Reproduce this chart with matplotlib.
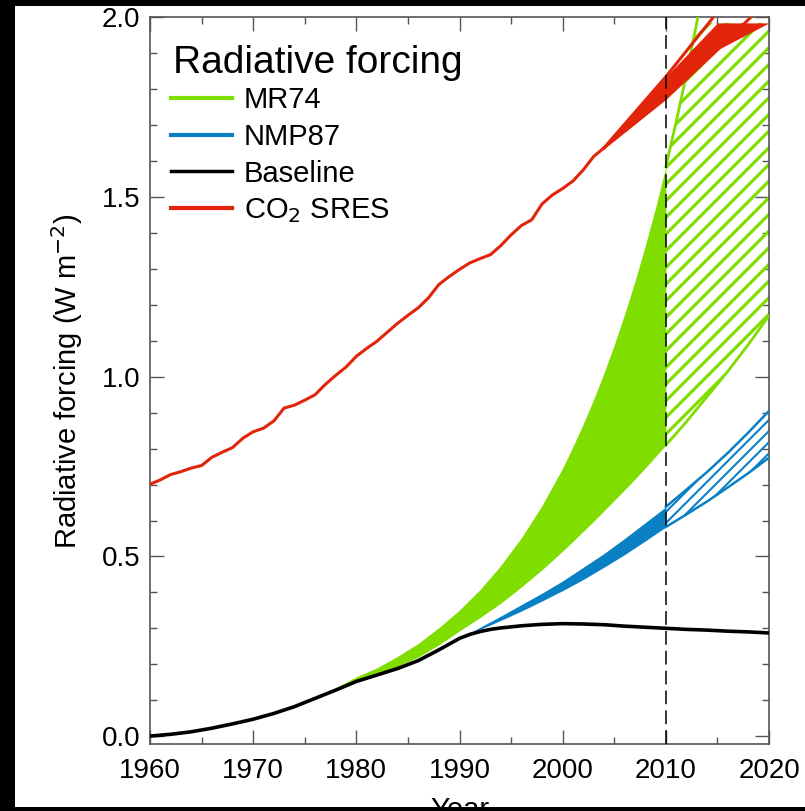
import matplotlib
matplotlib.use("Agg")
import matplotlib.pyplot as plt
from matplotlib.patches import Rectangle
from matplotlib.lines import Line2D
import numpy as np

plt.rcParams['font.family'] = ['Liberation Sans', 'DejaVu Sans']

# colours of the four series
GREEN = '#80dd00'
BLUE = '#0a80c4'
RED = '#e2240a'

# ---- data ----
# CO2 forcing, observed part (W m-2)
co2_years = list(range(1960, 2005))
co2_vals = [0.701, 0.713, 0.728, 0.736, 0.746, 0.753, 0.776, 0.790, 0.803, 0.829,
            0.847, 0.857, 0.877, 0.913, 0.921, 0.935, 0.950, 0.979, 1.004, 1.027,
            1.057, 1.079, 1.099, 1.124, 1.149, 1.171, 1.192, 1.220, 1.257, 1.279,
            1.299, 1.317, 1.329, 1.340, 1.365, 1.395, 1.421, 1.437, 1.481, 1.506,
            1.524, 1.545, 1.576, 1.613, 1.637]
# SRES range after 2004
sres_years = [2004, 2010, 2015, 2020]
sres_hi = [1.637, 1.835, 2.015, 2.19]
sres_lo = [1.637, 1.775, 1.910, 2.05]

# baseline
base_years = [1960, 1962, 1964, 1966, 1968, 1970, 1972, 1974, 1976, 1978, 1980, 1982,
              1984, 1986, 1988, 1990, 1991, 1992, 1993, 1994, 1996, 1998, 2000, 2002,
              2004, 2006, 2008, 2010, 2012, 2014, 2016, 2018, 2020]
base_vals = [0.000, 0.005, 0.012, 0.022, 0.034, 0.047, 0.063, 0.082, 0.105, 0.128,
             0.152, 0.170, 0.188, 0.210, 0.240, 0.272, 0.283, 0.291, 0.297, 0.301,
             0.307, 0.311, 0.313, 0.312, 0.310, 0.306, 0.303, 0.300, 0.297, 0.295,
             0.292, 0.290, 0.287]

# MR74 range
mr_years = [1976, 1978, 1980, 1982, 1984, 1986, 1988, 1990, 1992, 1994, 1996, 1998,
            2000, 2001, 2002, 2003, 2004, 2005, 2006, 2007, 2008, 2009, 2010, 2011,
            2012, 2013, 2014, 2016, 2018, 2020]
mr_lo = [0.105, 0.128, 0.153, 0.172, 0.194, 0.220, 0.254, 0.293, 0.330, 0.370, 0.415,
         0.463, 0.515, 0.542, 0.570, 0.598, 0.627, 0.656, 0.685, 0.715, 0.746, 0.778,
         0.810, 0.842, 0.875, 0.910, 0.945, 1.015, 1.090, 1.170]
mr_hi = [0.105, 0.135, 0.165, 0.190, 0.222, 0.258, 0.302, 0.351, 0.408, 0.475, 0.552,
         0.642, 0.746, 0.806, 0.869, 0.937, 1.010, 1.089, 1.174, 1.265, 1.364, 1.470,
         1.585, 1.709, 1.842, 1.986, 2.140, 2.480, 2.880, 3.340]

# NMP87 range
nmp_years = [1990, 1992, 1994, 1996, 1998, 2000, 2002, 2004, 2006, 2008, 2010,
             2012, 2014, 2016, 2018, 2020]
nmp_hi = [0.272, 0.303, 0.334, 0.366, 0.398, 0.432, 0.470, 0.508, 0.550, 0.594,
          0.638, 0.686, 0.735, 0.788, 0.845, 0.905]
nmp_lo = [0.272, 0.297, 0.322, 0.348, 0.376, 0.405, 0.436, 0.470, 0.505, 0.543,
          0.582, 0.617, 0.653, 0.692, 0.732, 0.775]

labels = ['MR74', 'NMP87', 'Baseline', 'CO$_2$ SRES']

split_year = 2010
cap = 1.985  # fills stop just under the top of the frame

mr_years = np.array(mr_years); mr_lo = np.array(mr_lo); mr_hi = np.array(mr_hi)
nmp_years = np.array(nmp_years); nmp_lo = np.array(nmp_lo); nmp_hi = np.array(nmp_hi)
sres_years = np.array(sres_years); sres_lo = np.array(sres_lo); sres_hi = np.array(sres_hi)

fig = plt.figure(figsize=(8.05, 8.11), dpi=100)
ax = fig.add_axes([150/805, 1-744/811, 619/805, 726.5/811])

# solid parts up to 2010
m = mr_years <= split_year
ax.fill_between(mr_years[m], mr_lo[m], mr_hi[m], color=GREEN, lw=0, zorder=2)
m = nmp_years <= split_year
ax.fill_between(nmp_years[m], nmp_lo[m], nmp_hi[m], color=BLUE, lw=0, zorder=2)

# hatched parts after 2010
m = mr_years >= split_year
with plt.rc_context({'hatch.linewidth': 2.3}):
    ax.fill_between(mr_years[m], np.minimum(mr_lo[m], cap), np.minimum(mr_hi[m], cap),
                    facecolor='none', edgecolor=GREEN, hatch='//', lw=0, zorder=2)
ax.plot(mr_years[m], mr_lo[m], color=GREEN, lw=2, zorder=3)
ax.plot(mr_years[m], mr_hi[m], color=GREEN, lw=2, zorder=3)
m = nmp_years >= split_year
with plt.rc_context({'hatch.linewidth': 1.5}):
    ax.fill_between(nmp_years[m], nmp_lo[m], nmp_hi[m],
                    facecolor='none', edgecolor=BLUE, hatch='///', lw=0, zorder=2)
ax.plot(nmp_years[m], nmp_lo[m], color=BLUE, lw=1.8, zorder=3)
ax.plot(nmp_years[m], nmp_hi[m], color=BLUE, lw=1.8, zorder=3)

# baseline
ax.plot(base_years, base_vals, color='black', lw=2.6, zorder=4)

# CO2 observed + SRES range
ax.plot(co2_years, co2_vals, color=RED, lw=2.2, zorder=4)
ax.fill_between(sres_years, np.minimum(sres_lo, cap), np.minimum(sres_hi, cap),
                color=RED, lw=0, zorder=4)
ax.plot(sres_years, sres_lo, color=RED, lw=2.2, zorder=4)
ax.plot(sres_years, sres_hi, color=RED, lw=2.2, zorder=4)

# 2010 marker
ax.axvline(split_year, color='black', lw=1.1, dashes=(9, 4), zorder=5)

ax.set_xlim(1960, 2020)
ax.set_ylim(-0.022, 2.0)
ax.set_xticks(range(1960, 2021, 10))
ax.set_xticks(range(1965, 2020, 10), minor=True)
ax.set_yticks([0.0, 0.5, 1.0, 1.5, 2.0])
ax.set_yticks(np.arange(0.1, 2.0, 0.1), minor=True)
ax.set_yticklabels(['0.0', '0.5', '1.0', '1.5', '2.0'])
ax.tick_params(which='both', direction='in', top=True, right=True, color='#555555',
               width=1.0, labelsize=20)
ax.tick_params(which='major', length=10)
ax.tick_params(which='minor', length=5)
ax.tick_params(axis='x', pad=10)
ax.tick_params(axis='y', pad=7)
for sp in ax.spines.values():
    sp.set_color('#555555')
    sp.set_linewidth(1.2)

ax.set_xlabel('Year', fontsize=21, labelpad=9)
ax.set_ylabel('Radiative forcing (W m$^{-2}$)', fontsize=21, labelpad=12)

# legend title and entries
ax.text(23/619, (744-73)/726.5, 'Radiative forcing', transform=ax.transAxes,
        fontsize=28, ha='left', va='baseline', zorder=6)
handles = [Line2D([], [], color=GREEN, lw=3),
           Line2D([], [], color=BLUE, lw=3),
           Line2D([], [], color='black', lw=2.5),
           Line2D([], [], color=RED, lw=3)]
leg = ax.legend(handles, labels, loc='upper left',
                bbox_to_anchor=(21/619, (744-86)/726.5),
                frameon=False, fontsize=21, handlelength=2.1,
                handletextpad=0.4, labelspacing=0.3, borderpad=0, borderaxespad=0)
leg.set_zorder(6)

# black frame around the picture (left, top, bottom)
for (x0, y0, w, h) in [(0, 0, 15/805, 1), (0, 1-6/811, 1, 6/811), (0, 0, 1, 4/811)]:
    fig.add_artist(Rectangle((x0, y0), w, h, transform=fig.transFigure,
                             facecolor='black', edgecolor='none', zorder=20))

fig.savefig('out.png', dpi=100)
